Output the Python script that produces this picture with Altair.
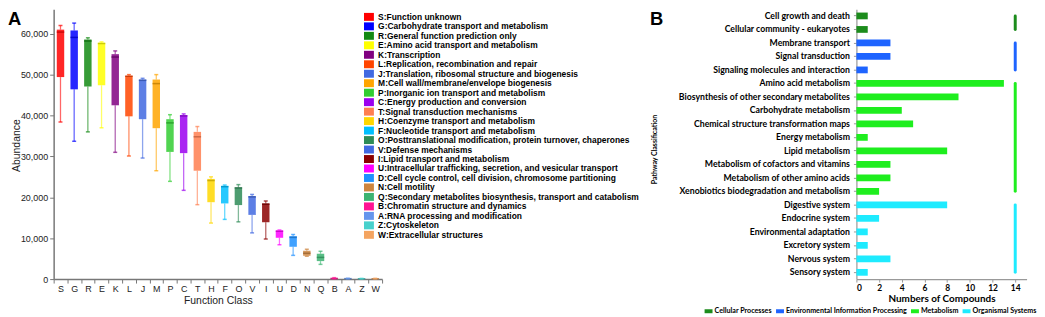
import altair as alt
import pandas as pd

# ---------------- Panel A data ----------------
codes = ["S", "G", "R", "E", "K", "L", "J", "M", "P", "C", "T", "H",
         "F", "O", "V", "I", "U", "D", "N", "Q", "B", "A", "Z", "W"]
names = [
    "Function unknown",
    "Carbohydrate transport and metabolism",
    "General function prediction only",
    "Amino acid transport and metabolism",
    "Transcription",
    "Replication, recombination and repair",
    "Translation, ribosomal structure and biogenesis",
    "Cell wall/membrane/envelope biogenesis",
    "Inorganic ion transport and metabolism",
    "Energy production and conversion",
    "Signal transduction mechanisms",
    "Coenzyme transport and metabolism",
    "Nucleotide transport and metabolism",
    "Posttranslational modification, protein turnover, chaperones",
    "Defense mechanisms",
    "Lipid transport and metabolism",
    "Intracellular trafficking, secretion, and vesicular transport",
    "Cell cycle control, cell division, chromosome partitioning",
    "Cell motility",
    "Secondary metabolites biosynthesis, transport and catabolism",
    "Chromatin structure and dynamics",
    "RNA processing and modification",
    "Cytoskeleton",
    "Extracellular structures",
]
colors_a = ["#FF0000", "#0000FF", "#138913", "#FFFF00", "#800080", "#FF4500",
            "#4169E1", "#FFA500", "#32CD32", "#9B00F0", "#FF7F50", "#FFD700",
            "#00BFFF", "#2E8B57", "#4169E1", "#8B0000", "#FF00FF", "#1E90FF",
            "#CD853F", "#3CB371", "#FF1493", "#6495ED", "#48D1CC", "#F4A460"]
mins = [38400, 33700, 36000, 37000, 31000, 30100, 29600, 26500, 23900, 21700, 18200, 13700,
        14600, 14000, 11300, 9800, 8400, 5800, 5600, 3600, 50, 40, 30, 30]
q1s = [49400, 46400, 47100, 47400, 42500, 39800, 39100, 36900, 31100, 30800, 26500, 18800,
       18500, 18100, 15700, 13900, 10100, 7900, 5700, 4400, 100, 80, 60, 60]
meds = [60400, 59100, 58200, 57600, 54300, 49600, 48600, 47800, 38200, 39900, 34800, 24100,
        22600, 22300, 20100, 18300, 11700, 10200, 6300, 5300, 150, 110, 90, 90]
q3s = [61000, 60800, 58600, 57800, 55000, 49700, 48800, 48800, 39100, 40100, 36000, 24500,
       22800, 22400, 20300, 18500, 11900, 10500, 6900, 6200, 250, 160, 130, 140]
maxs = [62000, 62600, 59000, 58000, 55800, 50000, 49100, 50000, 40200, 40400, 37300, 25000,
        23000, 23100, 20700, 19100, 12000, 10900, 7300, 6800, 350, 220, 180, 200]
y_ticks_a = [0, 10000, 20000, 30000, 40000, 50000, 60000]

# ---------------- Panel B data ----------------
pathways = [
    "Cell growth and death", "Cellular community - eukaryotes",
    "Membrane transport", "Signal transduction", "Signaling molecules and interaction",
    "Amino acid metabolism", "Biosynthesis of other secondary metabolites",
    "Carbohydrate metabolism", "Chemical structure transformation maps",
    "Energy metabolism", "Lipid metabolism", "Metabolism of cofactors and vitamins",
    "Metabolism of other amino acids", "Xenobiotics biodegradation and metabolism",
    "Digestive system", "Endocrine system", "Environmental adaptation",
    "Excretory system", "Nervous system", "Sensory system",
]
counts = [1, 1, 3, 3, 1, 13, 9, 4, 5, 1, 8, 3, 3, 2, 8, 2, 1, 1, 3, 1]
pathway_groups = (["Cellular Processes"] * 2 + ["Environmental Information Processing"] * 3
                  + ["Metabolism"] * 9 + ["Organismal Systems"] * 6)
group_names = ["Cellular Processes", "Environmental Information Processing",
               "Metabolism", "Organismal Systems"]
group_colors = ["#1C8C1C", "#1E64FF", "#1EEE1E", "#1EEBFF"]
x_ticks_b = [0, 2, 4, 6, 8, 10, 12, 14]

FA = "Liberation Sans"
FB = "Lato"

# ---------------- Panel A ----------------
labels = [f"{c}:{n}" for c, n in zip(codes, names)]
df_a = pd.DataFrame({"code": codes, "label": labels, "lo": mins, "q1": q1s,
                     "med": meds, "q3": q3s, "hi": maxs})

xA = alt.X("code:N", sort=codes,
           scale=alt.Scale(paddingInner=0, paddingOuter=0),
           axis=alt.Axis(title="Function Class", labelAngle=0, tickBand="extent",
                         labelFont=FA, labelFontSize=9, labelColor="#222",
                         labelPadding=2, tickSize=4, tickColor="#777",
                         domainColor="#777", domainWidth=1.5,
                         titleFont=FA, titleFontSize=10.5, titleFontWeight="normal",
                         titleColor="#222", titleY=22, titleBaseline="middle"))
yscaleA = alt.Scale(domain=[0, 66000], nice=False)
axA = alt.Axis(title="Abundance", values=y_ticks_a, format=",d", grid=False,
               labelFont=FA, labelFontSize=9, labelColor="#222", tickSize=4,
               tickColor="#777", domainColor="#777", domainWidth=1.5,
               titleFont=FA, titleFontSize=10.5, titleFontWeight="normal",
               titleColor="#222", titleX=-37, titleY=137, titleBaseline="middle",
               titleAngle=270)
colScaleA = alt.Scale(domain=labels, range=colors_a)
colA = alt.Color("label:N", scale=colScaleA, sort=labels,
                 legend=alt.Legend(orient="none", legendX=313.5, legendY=3.5, title=None,
                                   symbolType="M-1.25,-1H1.25V1H-1.25Z", symbolSize=64,
                                   symbolStrokeWidth=0, symbolOpacity=1,
                                   labelFont=FA, labelFontSize=8.5, labelFontWeight="bold",
                                   labelColor="#000", labelLimit=500, labelOffset=5,
                                   rowPadding=0.55, padding=0))
colA_nl = alt.Color("label:N", scale=colScaleA, sort=labels, legend=None)

baseA = alt.Chart(df_a)
box = baseA.mark_bar(size=7.5, fillOpacity=0.85).encode(
    x=xA, y=alt.Y("q1:Q", scale=yscaleA, axis=axA), y2="q3:Q", color=colA)
wlo = baseA.mark_rule(strokeWidth=1.3, opacity=0.6).encode(
    x=xA, y=alt.Y("lo:Q", scale=yscaleA, axis=axA), y2="q1:Q", color=colA_nl)
whi = baseA.mark_rule(strokeWidth=1.3, opacity=0.6).encode(
    x=xA, y=alt.Y("q3:Q", scale=yscaleA, axis=axA), y2="hi:Q", color=colA_nl)
med = baseA.mark_tick(size=7.5, thickness=1.5).encode(
    x=xA, y=alt.Y("med:Q", scale=yscaleA, axis=axA), color=colA_nl)
med_dark = baseA.mark_tick(size=7.5, thickness=1.5, color="#000", opacity=0.2).encode(
    x=xA, y=alt.Y("med:Q", scale=yscaleA, axis=axA))
cap_lo = baseA.mark_tick(size=4, thickness=1.5).encode(
    x=xA, y=alt.Y("lo:Q", scale=yscaleA, axis=axA), color=colA_nl)
cap_hi = baseA.mark_tick(size=4, thickness=1.5).encode(
    x=xA, y=alt.Y("hi:Q", scale=yscaleA, axis=axA), color=colA_nl)
letterA = alt.Chart(pd.DataFrame({"t": ["A"]})).mark_text(
    font=FA, fontSize=18.5, fontWeight="bold", align="left", baseline="alphabetic",
    color="#000").encode(x=alt.value(-46), y=alt.value(16), text="t:N")

panelA = alt.layer(box, wlo, whi, med, med_dark, cap_lo, cap_hi, letterA).properties(
    width=331, height=272)

# ---------------- Panel B ----------------
df_b = pd.DataFrame({"pathway": pathways, "count": counts, "group": pathway_groups})
firsts, lasts = [], []
for g in group_names:
    members = [p for p, gg in zip(pathways, pathway_groups) if gg == g]
    firsts.append(members[0])
    lasts.append(members[-1])
df_ind = pd.DataFrame({"group": group_names, "first": firsts, "last": lasts})

yscaleB = alt.Scale(domain=pathways, paddingInner=0.5, paddingOuter=0.25)
axB = alt.Axis(title="Pathway Classification", labelFont=FB, labelFontSize=8.8,
               labelFontWeight="bold", labelColor="#000", labelPadding=4, tickSize=3,
               tickColor="#999", domainColor="#999", domainWidth=1.2, labelLimit=400,
               titleFont=FB, titleFontSize=7, titleFontWeight="bold", titleColor="#000",
               titleX=-203, titleY=141, titleBaseline="middle", titleAngle=270)
xscaleB = alt.Scale(domain=[0, 15], nice=False)
axXB = alt.Axis(title="Numbers of Compounds", values=x_ticks_b, grid=False,
                labelFont=FB, labelFontSize=8.5, labelFontWeight="bold", labelColor="#000",
                tickSize=3, tickColor="#999", domainColor="#999", domainWidth=1.2,
                titleFont=FB, titleFontSize=10, titleFontWeight="bold", titleColor="#000",
                titleY=20, titleBaseline="middle")
colScaleB = alt.Scale(domain=group_names, range=group_colors)
colB = alt.Color("group:N", scale=colScaleB,
                 legend=alt.Legend(orient="none", direction="horizontal", legendX=-153,
                                   legendY=300, title=None,
                                   symbolType="M-1,-0.5H1V0.5H-1Z", symbolSize=64,
                                   symbolStrokeWidth=0, symbolOpacity=1,
                                   labelFont=FB, labelFontSize=7.2, labelFontWeight="bold",
                                   labelColor="#000", labelOffset=2, columnPadding=4,
                                   labelLimit=400, padding=0))
bars = alt.Chart(df_b).mark_bar().encode(
    y=alt.Y("pathway:N", sort=pathways, scale=yscaleB, axis=axB),
    x=alt.X("count:Q", scale=xscaleB, axis=axXB),
    color=colB)
ind = alt.Chart(df_ind).mark_rule(strokeWidth=3, strokeCap="round").encode(
    y=alt.Y("first:N", sort=pathways, scale=yscaleB, axis=axB),
    y2="last:N",
    x=alt.datum(14, scale=xscaleB, axis=axXB),
    color=alt.Color("group:N", scale=colScaleB, legend=None))
letterB = alt.Chart(pd.DataFrame({"t": ["B"]})).mark_text(
    font=FA, fontSize=18.5, fontWeight="bold", align="left", baseline="alphabetic",
    color="#000").encode(x=alt.value(-208), y=alt.value(16), text="t:N")

panelB = alt.layer(bars, ind, letterB).properties(width=171.5, height=272)

chart = alt.HConcatChart(hconcat=[panelA, panelB], spacing=478, bounds="flush",
                         padding=0).resolve_scale(color="independent"
                         ).resolve_legend(color="independent").configure_view(stroke=None)

chart.save("out.html", embed_options={"renderer": "svg", "actions": False})
